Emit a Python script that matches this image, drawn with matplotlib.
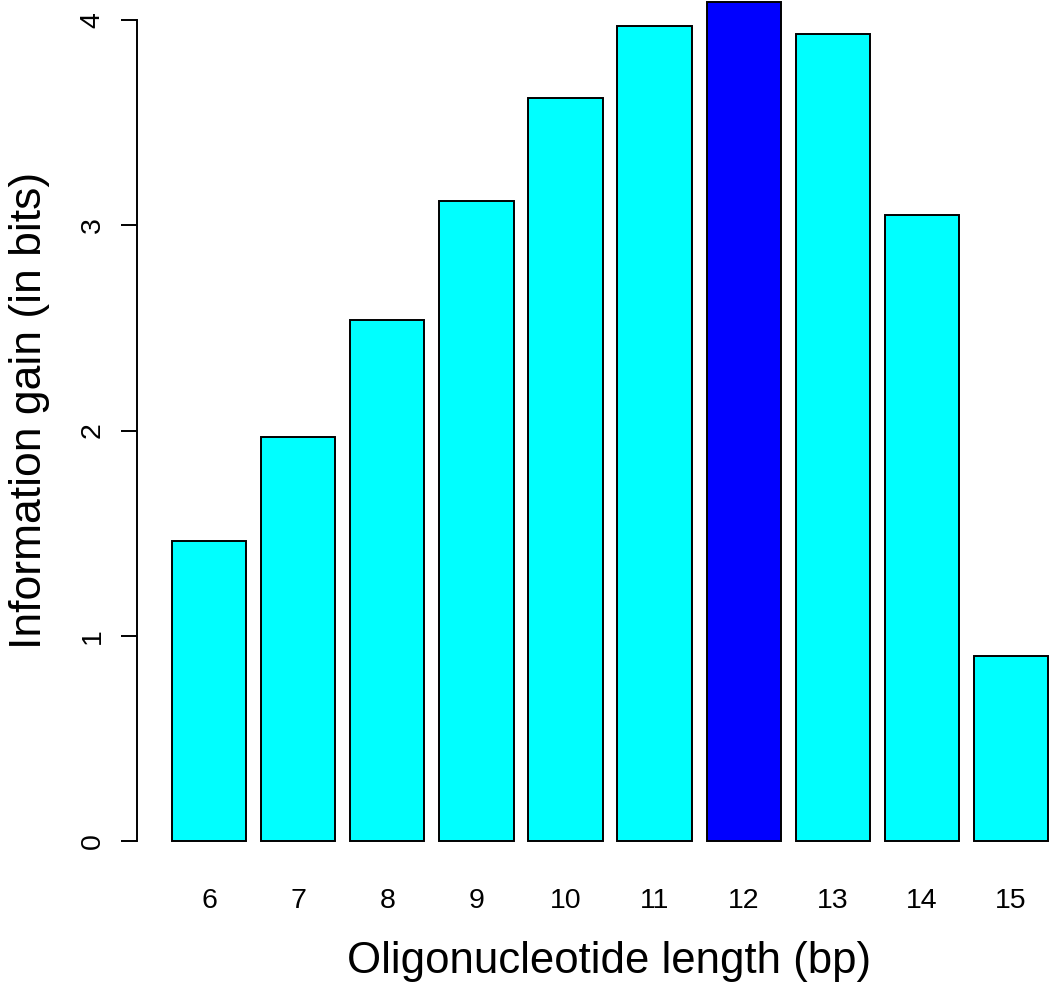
import matplotlib
matplotlib.use("Agg")
import matplotlib.pyplot as plt

# data
lengths = [6, 7, 8, 9, 10, 11, 12, 13, 14, 15]
info_gain = [1.46, 1.97, 2.54, 3.12, 3.62, 3.97, 4.09, 3.93, 3.05, 0.90]
best_length = 12
y_ticks = [0, 1, 2, 3, 4]

plt.rcParams['font.family'] = ['Liberation Sans', 'DejaVu Sans']

W, H = 1050, 984
fig = plt.figure(figsize=(W / 100, H / 100), dpi=100)

# axes placed in pixels (R-style plot region, cropped on right and top)
left_px, right_px, bottom_px, top_px = 137, 1050, 875, 0
ax = fig.add_axes([left_px / W, 1 - bottom_px / H,
                   (right_px - left_px) / W, (bottom_px - top_px) / H])

# R barplot geometry: width 1, space 0.2
centers = [0.7 + 1.2 * i for i in range(len(lengths))]
colors = ['#0000FF' if L == best_length else '#00FFFF' for L in lengths]
ax.bar(centers, info_gain, width=1.0, color=colors, edgecolor='black', linewidth=1.4)

ax.set_xlim(-0.272, 12.027)
ax.set_ylim(-0.1657, 4.0975)

for s in ['top', 'right', 'bottom']:
    ax.spines[s].set_visible(False)
ax.spines['left'].set_bounds(0, 4)
ax.spines['left'].set_linewidth(1.4)

ax.set_yticks(y_ticks)
ax.set_yticklabels([str(t) for t in y_ticks], rotation=90, va='center', fontsize=20.5)
ax.tick_params(axis='y', length=11.5, width=1.4, pad=11)

ax.set_xticks(centers)
ax.set_xticklabels([str(L) for L in lengths], fontsize=20.5)
ax.tick_params(axis='x', length=0, pad=9.5)

fig.text(609 / W, 1 - 962 / H, 'Oligonucleotide length (bp)', ha='center', va='center', fontsize=31.5)
fig.text(30 / W, 1 - 410 / H, 'Information gain (in bits)', ha='center', va='center',
         rotation=90, fontsize=32)

fig.savefig('out.png', dpi=100)
